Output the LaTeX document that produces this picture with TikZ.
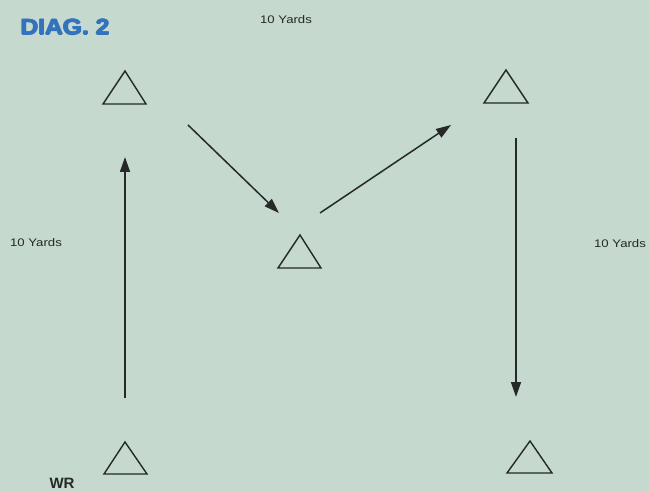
\documentclass[tikz,border=0pt]{standalone}
\usepackage{fontspec}
\setmainfont{Liberation Sans}
\usetikzlibrary{arrows.meta}
\definecolor{bg}{HTML}{C5D9CE}
\definecolor{diagblue}{HTML}{3373BD}
\definecolor{ink}{HTML}{252927}
\begin{document}
\begin{tikzpicture}[x=1pt,y=-1pt,
  tri/.style={draw=ink,line width=1.4pt,line join=miter},
  route/.style={draw=ink,line width=1.5pt,-{Triangle[length=15pt,width=10pt]}},
  lbl/.style={font=\fontsize{11}{13}\selectfont,text=ink,inner sep=0pt},
  titlestyle/.style={inner sep=0pt,text=diagblue,font=\fontsize{22}{26}\selectfont\bfseries}]
\fill[bg] (0,0) rectangle (649,492);
\useasboundingbox (0,0) rectangle (649,492);
% text (heavy title made by overlapping copies)
\foreach \dx/\dy in {-0.7/0,0.7/0,0/-0.5,0/0.5} {
  \node[titlestyle] at (65+\dx,27+\dy) {\scalebox{1.12}[1]{DIAG. 2}};
}
\node[titlestyle] (title) at (65,27) {\scalebox{1.12}[1]{DIAG. 2}};
\node[lbl] (ltop) at (286,20) {\scalebox{1.2}[1]{10 Yards}};
\node[lbl] (lleft) at (36,243) {\scalebox{1.2}[1]{10 Yards}};
\node[lbl] (lright) at (620,244) {\scalebox{1.2}[1]{10 Yards}};
\node[inner sep=0pt,text=ink,font=\fontsize{15}{17}\selectfont\bfseries] (wr) at (62,483) {WR};
% triangles
\draw[tri] (103,104) -- (125,71) -- (146,104) -- cycle;
\draw[tri] (104,474) -- (125,442) -- (147,474) -- cycle;
\draw[tri] (278,268) -- (300,235) -- (321,268) -- cycle;
\draw[tri] (484,103) -- (506,70) -- (528,103) -- cycle;
\draw[tri] (507,473) -- (530,441) -- (552,473) -- cycle;
% routes
\coordinate (a1) at (125,398); \coordinate (a2) at (125,157);
\coordinate (b1) at (188,125); \coordinate (b2) at (279,213);
\coordinate (c1) at (320,213); \coordinate (c2) at (451,125);
\coordinate (d1) at (516,138); \coordinate (d2) at (516,397);
\draw[route] (a1) -- (a2);
\draw[route] (b1) -- (b2);
\draw[route] (c1) -- (c2);
\draw[route] (d1) -- (d2);
\end{tikzpicture}
\end{document}
